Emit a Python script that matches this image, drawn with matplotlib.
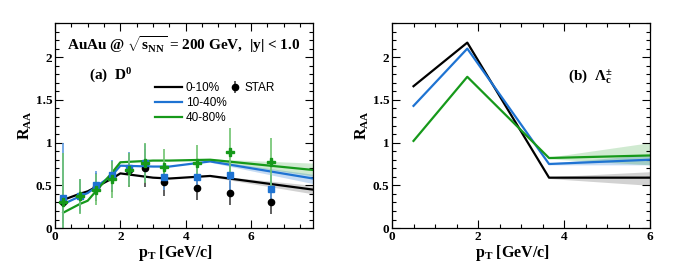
import numpy as np
import matplotlib
matplotlib.use('Agg')
import matplotlib.pyplot as plt
from matplotlib.ticker import MultipleLocator

plt.rcParams['font.family'] = ['Liberation Serif', 'DejaVu Serif']
plt.rcParams['mathtext.fontset'] = 'custom'
plt.rcParams['mathtext.rm'] = 'Liberation Serif:bold'
plt.rcParams['mathtext.it'] = 'Liberation Serif:bold'
plt.rcParams['mathtext.bf'] = 'Liberation Serif:bold'

# ---- panel (a) D0: model curves ----
d0_pt = [0.25, 0.75, 1.0, 1.25, 1.75, 2.0, 3.0, 3.5, 4.75, 7.9]
d0_c010 = [0.33, 0.40, 0.43, 0.48, 0.58, 0.64, 0.59, 0.58, 0.61, 0.45]
d0_c1040 = [0.28, 0.37, 0.41, 0.48, 0.62, 0.73, 0.72, 0.72, 0.78, 0.58]
d0_c4080 = [0.18, 0.28, 0.32, 0.43, 0.65, 0.77, 0.79, 0.79, 0.80, 0.68]

# uncertainty bands (from 4.75 GeV/c)
band_pt = [4.75, 7.9]
d0_c010_lo = [0.60, 0.40]
d0_c010_hi = [0.62, 0.50]
d0_c1040_lo = [0.77, 0.52]
d0_c1040_hi = [0.79, 0.63]
d0_c4080_lo = [0.79, 0.61]
d0_c4080_hi = [0.81, 0.76]

# STAR data
star_pt = [0.25, 0.75, 1.25, 1.75, 2.25, 2.75, 3.35, 4.35, 5.35, 6.6]
star_c010 = [0.31, 0.38, 0.48, 0.60, 0.68, 0.70, 0.54, 0.47, 0.41, 0.30]
star_c010_err = [0.25, 0.18, 0.16, 0.18, 0.2, 0.22, 0.16, 0.14, 0.14, 0.13]
star_c1040 = [0.35, 0.38, 0.50, 0.62, 0.70, 0.76, 0.60, 0.60, 0.62, 0.46]
star_c1040_err = [0.64, 0.2, 0.17, 0.18, 0.19, 0.22, 0.15, 0.15, 0.17, 0.16]
star_c4080 = [0.31, 0.37, 0.45, 0.57, 0.68, 0.76, 0.72, 0.76, 0.89, 0.77]
star_c4080_err = [0.57, 0.21, 0.18, 0.22, 0.2, 0.23, 0.21, 0.21, 0.28, 0.28]

# ---- panel (b) Lambda_c ----
lc_pt = [0.5, 1.75, 3.65, 6.0]
lc_c010 = [1.66, 2.17, 0.59, 0.59]
lc_c1040 = [1.43, 2.10, 0.75, 0.80]
lc_c4080 = [1.02, 1.77, 0.82, 0.85]
lc_band_pt = [3.65, 6.0]
lc_c010_lo = [0.58, 0.50]
lc_c010_hi = [0.60, 0.66]
lc_c1040_lo = [0.74, 0.74]
lc_c1040_hi = [0.76, 0.86]
lc_c4080_lo = [0.81, 0.74]
lc_c4080_hi = [0.83, 1.00]

black = 'black'
blue = '#1e73d2'
green = '#16991a'

fig = plt.figure(figsize=(6.74, 2.64), dpi=100)
ax1 = fig.add_axes([0.0816, 0.136, 0.383, 0.777])
ax2 = fig.add_axes([0.5816, 0.136, 0.383, 0.777])


def style(ax, xmax):
    ax.set_xlim(0, xmax)
    ax.set_ylim(0, 2.4)
    ax.xaxis.set_major_locator(MultipleLocator(2))
    ax.xaxis.set_minor_locator(MultipleLocator(0.5))
    ax.yaxis.set_major_locator(MultipleLocator(0.5))
    ax.yaxis.set_minor_locator(MultipleLocator(0.1))
    ax.tick_params(which='both', direction='in', top=True, right=True, width=0.8)
    ax.tick_params(which='major', length=6, labelsize=9.5, pad=2)
    ax.tick_params(which='minor', length=3)
    for lab in ax.get_xticklabels() + ax.get_yticklabels():
        lab.set_fontweight('bold')
    ax.yaxis.set_major_formatter(plt.FuncFormatter(lambda v, p: '%g' % v))
    ax.set_xlabel(r'$\mathregular{p_T}$ [GeV/c]', fontsize=11.5, fontweight='bold')
    ax.set_ylabel(r'$\mathregular{R_{AA}}$', fontsize=11.5, fontweight='bold')
    ax.xaxis.set_label_coords(0.465, -0.075)
    ax.yaxis.set_label_coords(-0.08, 0.5)
    for s in ax.spines.values():
        s.set_linewidth(0.9)


# panel (a)
ax1.fill_between(band_pt, d0_c010_lo, d0_c010_hi, color='gray', alpha=0.35, lw=0)
ax1.fill_between(band_pt, d0_c1040_lo, d0_c1040_hi, color=blue, alpha=0.25, lw=0)
ax1.fill_between(band_pt, d0_c4080_lo, d0_c4080_hi, color=green, alpha=0.2, lw=0)
l1, = ax1.plot(d0_pt, d0_c010, color=black, lw=1.6, label='0-10%')
l2, = ax1.plot(d0_pt, d0_c1040, color=blue, lw=1.6, label='10-40%')
l3, = ax1.plot(d0_pt, d0_c4080, color=green, lw=1.6, label='40-80%')

star = ax1.errorbar(star_pt, star_c010, yerr=star_c010_err, fmt='o', color=black,
                    ecolor='#444444', ms=4.5, elinewidth=1.2)
ax1.errorbar(star_pt, star_c1040, yerr=star_c1040_err, fmt='s', color=blue,
             ecolor='#5e9be0', ms=4.5, elinewidth=1.2)
ax1.errorbar(star_pt, star_c4080, yerr=star_c4080_err, fmt='P', color=green,
             ecolor='#6fc46f', ms=6, elinewidth=1.2)

ax1.text(0.5, 0.895, r'AuAu @ $\mathregular{\sqrt{s_{NN}}}$ = 200 GeV,  |y| < 1.0',
         transform=ax1.transAxes, ha='center', va='center', fontsize=11, fontweight='bold')
ax1.text(0.13, 0.74, r'(a)  D$\mathregular{^0}$', transform=ax1.transAxes,
         ha='left', va='center', fontsize=11, fontweight='bold')

leg1 = ax1.legend(handles=[l1, l2, l3], loc='upper left', bbox_to_anchor=(0.37, 0.735),
                  frameon=False, prop={'family': 'Liberation Sans', 'size': 8.5},
                  handlelength=2.3, handletextpad=0.3, labelspacing=0.25, borderaxespad=0)
ax1.add_artist(leg1)
ax1.legend([star], ['STAR'], loc='upper left', bbox_to_anchor=(0.655, 0.735),
           frameon=False, prop={'family': 'Liberation Sans', 'size': 8.5},
           handlelength=1.0, handletextpad=0.3, borderaxespad=0)
style(ax1, 7.9)

# panel (b)
ax2.fill_between(lc_band_pt, lc_c010_lo, lc_c010_hi, color='gray', alpha=0.35, lw=0)
ax2.fill_between(lc_band_pt, lc_c1040_lo, lc_c1040_hi, color=blue, alpha=0.25, lw=0)
ax2.fill_between(lc_band_pt, lc_c4080_lo, lc_c4080_hi, color=green, alpha=0.2, lw=0)
ax2.plot(lc_pt, lc_c010, color=black, lw=1.6)
ax2.plot(lc_pt, lc_c1040, color=blue, lw=1.6)
ax2.plot(lc_pt, lc_c4080, color=green, lw=1.6)
ax2.text(0.68, 0.74, r'(b)  $\mathregular{\Lambda_c^{\pm}}$', transform=ax2.transAxes,
         ha='left', va='center', fontsize=11, fontweight='bold')
style(ax2, 6)

fig.savefig('out.png', dpi=100)
